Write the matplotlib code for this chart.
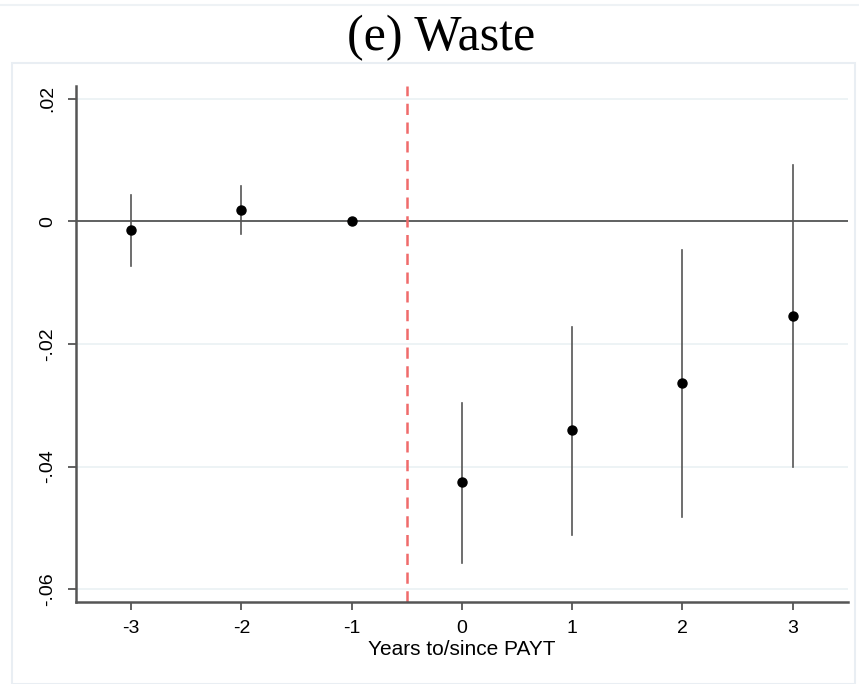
import numpy as np
import matplotlib.pyplot as plt
from matplotlib.patches import Rectangle
from matplotlib.lines import Line2D

# event-study estimates
years = [-3, -2, -1, 0, 1, 2, 3]
coef = [-0.0014, 0.0018, 0.0, -0.0426, -0.0341, -0.0264, -0.0154]
ci_hi = [0.0043, 0.0057, 0.0, -0.0296, -0.0172, -0.0046, 0.0092]
ci_lo = [-0.0072, -0.0021, 0.0, -0.0558, -0.0511, -0.0483, -0.0400]
yticks = [0.02, 0.0, -0.02, -0.04, -0.06]
ytick_labels = [".02", "0", "-.02", "-.04", "-.06"]

fig = plt.figure(figsize=(8.59, 6.84), dpi=100)
ax = fig.add_axes([0.0885, 0.1199, 0.8985, 0.7544])

# stata-like outer frame
fig.patches.append(Rectangle((12/859, 0), 843/859, 1 - 63/684, transform=fig.transFigure,
                             fill=False, edgecolor="#e9eef3", lw=1.5))
fig.lines.append(Line2D([0, 1], [1 - 5/684, 1 - 5/684], transform=fig.transFigure,
                        color="#eef2f5", lw=1.5))

for y in yticks:
    ax.axhline(y, color="#eaf1f4", lw=1.2, zorder=0)
ax.axhline(0, color="#555555", lw=1.3, zorder=1)
ax.axvline(-0.5, color="#f06b6b", lw=1.8, ls=(0, (4.5, 3)), zorder=1)

for x, lo, hi in zip(years, ci_lo, ci_hi):
    if hi != lo:
        ax.plot([x, x], [lo, hi], color="#555555", lw=1.2, zorder=2)
ax.plot(years, coef, "o", color="black", ms=6.5, zorder=3)

ax.set_xlim(-3.5, 3.5)
ax.set_ylim(-0.0621, 0.0221)
ax.set_xticks(years)
ax.set_xticklabels([str(v) for v in years])
ax.set_yticks(yticks)
ax.set_yticklabels(ytick_labels, rotation=90, va="center")

for s in ["top", "right"]:
    ax.spines[s].set_visible(False)
for s in ["left", "bottom"]:
    ax.spines[s].set_color("#555555")
    ax.spines[s].set_linewidth(1.8)
ax.tick_params(direction="out", length=6, width=1.3, color="#555555",
               labelsize=14)
ax.tick_params(axis="x", pad=7)
ax.tick_params(axis="y", pad=8)
for lab in ax.get_xticklabels() + ax.get_yticklabels():
    lab.set_family("Liberation Sans")

ax.set_xlabel("Years to/since PAYT", family="Liberation Sans", fontsize=15, labelpad=2)
fig.text(0.513, 0.944, "(e) Waste", family="Liberation Serif", fontsize=36,
         ha="center", va="center")

fig.savefig("out.png", dpi=100)
